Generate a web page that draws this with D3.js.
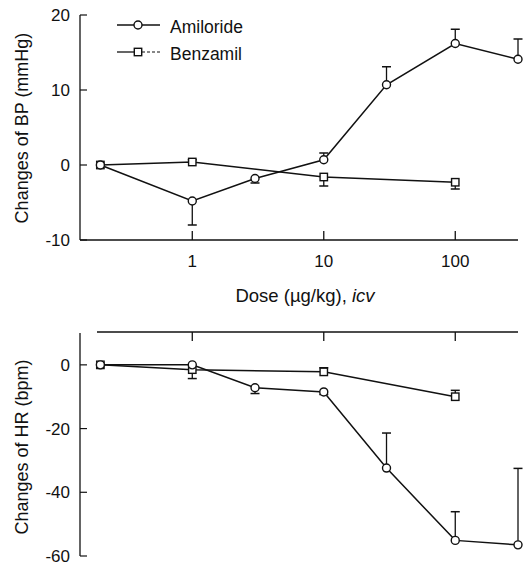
<!DOCTYPE html>
<html>
<head>
<meta charset="utf-8">
<script src="https://cdn.jsdelivr.net/npm/d3@7"></script>
<style>
  body { margin: 0; background: #fff; }
  text { font-family: "Liberation Sans", Arial, sans-serif; fill: #111; }
</style>
</head>
<body>
<svg id="chart"></svg>
<script>
const width = 530;
const height = 566;

// doses (µg/kg), control plotted at 0.2
const doses = [0.2, 1, 3, 10, 30, 100, 300];
const benzDoses = [0.2, 1, 10, 100];
const xTicks = [1, 10, 100];

// BP panel
const bpAmi = [0, -4.8, -1.8, 0.7, 10.7, 16.2, 14.1];
const bpAmiErr = [0, -3.2, -0.6, 0.9, 2.4, 1.9, 2.7];
const bpBenz = [0, 0.4, -1.6, -2.3];
const bpBenzErr = [0, 0.3, -1.2, -0.9];
const bpTicks = [20, 10, 0, -10];

// HR panel
const hrAmi = [0, 0, -7.2, -8.5, -32.4, -55.1, -56.5];
const hrAmiErr = [0, 0, -1.8, -0.8, 11, 9, 24];
const hrBenz = [0, -1.5, -2.2, -10];
const hrBenzErr = [0, -2.8, 1.3, 2];
const hrTicks = [0, -20, -40, -60];

const svg = d3.select("#chart").attr("width", width).attr("height", height);

const x = d3.scaleLog().domain([0.14, 300]).range([80, 518]);
const yBP = d3.scaleLinear().domain([-10, 20]).range([240, 15]);
const yHR = d3.scaleLinear().domain([-60, 10]).range([556, 333]);

const ink = "#111";

function drawSeries(y, xs, vals, errs, shape) {
  const g = svg.append("g");
  const pts = xs.map((d, i) => ({ x: d, v: vals[i], e: errs[i] }));

  // error bars (one-sided)
  pts.filter(d => d.e !== 0).forEach(d => {
    const px = x(d.x);
    const y0 = y(d.v), y1 = y(d.v + d.e);
    g.append("line").attr("x1", px).attr("x2", px).attr("y1", y0).attr("y2", y1)
      .attr("stroke", ink).attr("stroke-width", 1.3);
    g.append("line").attr("x1", px - 4.5).attr("x2", px + 4.5).attr("y1", y1).attr("y2", y1)
      .attr("stroke", ink).attr("stroke-width", 1.5);
  });

  g.append("path")
    .datum(pts)
    .attr("fill", "none")
    .attr("stroke", ink)
    .attr("stroke-width", 1.5)
    .attr("d", d3.line().x(d => x(d.x)).y(d => y(d.v)));

  drawMarkers(g, pts.map(d => [x(d.x), y(d.v)]), shape);
}

function drawMarkers(g, coords, shape) {
  coords.forEach(([px, py]) => {
    if (shape === "circle") {
      g.append("circle").attr("cx", px).attr("cy", py).attr("r", 4)
        .attr("fill", "#fff").attr("stroke", ink).attr("stroke-width", 1.4);
    } else {
      g.append("rect").attr("x", px - 3.7).attr("y", py - 3.7).attr("width", 7.4).attr("height", 7.4)
        .attr("fill", "#fff").attr("stroke", ink).attr("stroke-width", 1.4);
    }
  });
}

function yAxis(y, ticks, x0) {
  const g = svg.append("g");
  const [lo, hi] = y.range();
  g.append("line").attr("x1", x0).attr("x2", x0).attr("y1", lo).attr("y2", hi)
    .attr("stroke", ink).attr("stroke-width", 1.3);
  ticks.forEach(t => {
    g.append("line").attr("x1", x0).attr("x2", x0 + 7).attr("y1", y(t)).attr("y2", y(t))
      .attr("stroke", ink).attr("stroke-width", 1.2);
    g.append("text").attr("x", x0 - 10).attr("y", y(t) + 6)
      .attr("text-anchor", "end").attr("font-size", 17).text(t);
  });
}

// ---- top panel ----
yAxis(yBP, bpTicks, 80);
svg.append("line").attr("x1", 80).attr("x2", 518).attr("y1", 240).attr("y2", 240)
  .attr("stroke", ink).attr("stroke-width", 1.3);
xTicks.forEach(t => {
  svg.append("line").attr("x1", x(t)).attr("x2", x(t)).attr("y1", 240).attr("y2", 231)
    .attr("stroke", ink).attr("stroke-width", 1.3);
  svg.append("text").attr("x", x(t)).attr("y", 267).attr("text-anchor", "middle")
    .attr("font-size", 17).text(t);
});
const xl = svg.append("text").attr("x", 305).attr("y", 302).attr("text-anchor", "middle")
  .attr("font-size", 18.5);
xl.append("tspan").text("Dose (\u00b5g/kg), ");
xl.append("tspan").attr("font-style", "italic").text("icv");

svg.append("text")
  .attr("transform", `translate(28,128) rotate(-90)`)
  .attr("text-anchor", "middle").attr("font-size", 18)
  .text("Changes of BP (mmHg)");

drawSeries(yBP, benzDoses, bpBenz, bpBenzErr, "square");
drawSeries(yBP, doses, bpAmi, bpAmiErr, "circle");

// legend
const leg = svg.append("g");
leg.append("line").attr("x1", 117).attr("x2", 160).attr("y1", 25).attr("y2", 25)
  .attr("stroke", ink).attr("stroke-width", 1.3);
leg.append("line").attr("x1", 117).attr("x2", 134).attr("y1", 52).attr("y2", 52)
  .attr("stroke", ink).attr("stroke-width", 1.3);
leg.append("line").attr("x1", 142).attr("x2", 160).attr("y1", 52).attr("y2", 52)
  .attr("stroke", ink).attr("stroke-width", 1.2).attr("stroke-dasharray", "3,2");
drawMarkers(leg, [[138, 25]], "circle");
drawMarkers(leg, [[138, 52]], "square");
leg.append("text").attr("x", 170).attr("y", 32.5).attr("font-size", 17.5).text("Amiloride");
leg.append("text").attr("x", 170).attr("y", 59.5).attr("font-size", 17.5).text("Benzamil");

// ---- bottom panel ----
yAxis(yHR, hrTicks, 80);
svg.append("line").attr("x1", 97).attr("x2", 518).attr("y1", 332).attr("y2", 332)
  .attr("stroke", ink).attr("stroke-width", 1.3);
xTicks.forEach(t => {
  svg.append("line").attr("x1", x(t)).attr("x2", x(t)).attr("y1", 332).attr("y2", 341)
    .attr("stroke", ink).attr("stroke-width", 1.3);
});
svg.append("text")
  .attr("transform", `translate(28,447) rotate(-90)`)
  .attr("text-anchor", "middle").attr("font-size", 18)
  .text("Changes of HR (bpm)");

drawSeries(yHR, benzDoses, hrBenz, hrBenzErr, "square");
drawSeries(yHR, doses, hrAmi, hrAmiErr, "circle");
</script>
</body>
</html>
